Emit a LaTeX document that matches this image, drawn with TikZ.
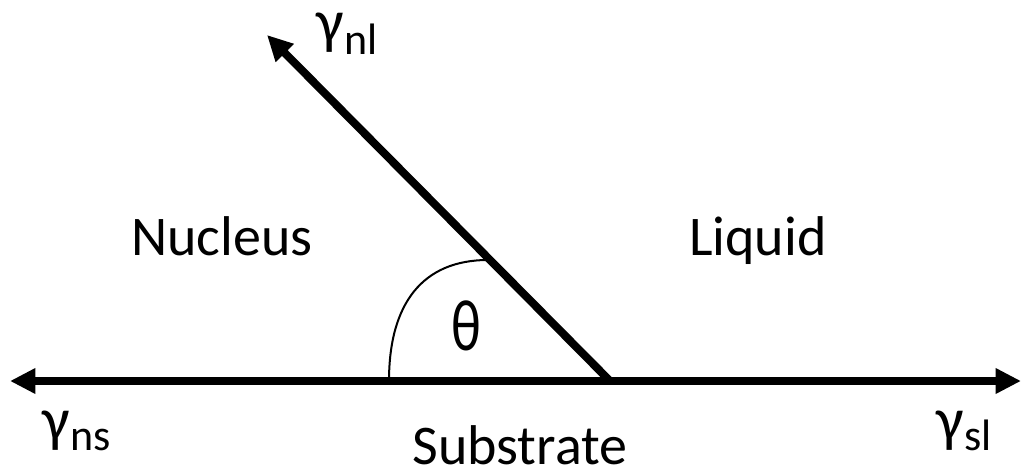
\documentclass[tikz,border=0pt]{standalone}
\usepackage{fontspec}
\setmainfont{Carlito}
\usetikzlibrary{arrows.meta}
\tikzset{
  tip/.tip={Triangle[length=19pt,width=18pt]},
  force/.style={line width=6pt, -tip},
  lbl/.style={anchor=base, inner sep=0pt, font=\fontsize{42}{50}\selectfont},
  gam/.style={anchor=south west, inner sep=0pt, font=\fontsize{46}{54}\selectfont},
  gsub/.style={anchor=base west, inner sep=0pt, font=\fontsize{33}{39}\selectfont}
}
\begin{document}
\begin{tikzpicture}[x=0.75pt,y=-0.75pt]
\useasboundingbox (0,0) rectangle (1023,467);
\coordinate (L) at (10,381);
\coordinate (R) at (1021,381);
\coordinate (O) at (610,381);
\coordinate (T) at (267,35);
\coordinate (A) at (389,381);
\coordinate (B) at (488,260);
\draw[line width=6pt, tip-tip] (L) -- (R);
\draw[force] (O) -- (T);
\draw[line width=1.5pt] (A) .. controls (389,303) and (423,260) .. (B);
\node[lbl] (theta) at (466,350) {\scalebox{1}[1.3]{θ}};
\node[lbl] (nuc) at (222,255) {Nucleus};
\node[lbl] (liq) at (758,255) {Liquid};
\node[lbl] (sub) at (520,464) {Substrate};
\node[gam] (gnl) at (316,53) {γ};
\node[gsub] (gnls) at (gnl.south east |- 0,55) {nl};
\node[gam] (gns) at (42,451) {γ};
\node[gsub] (gnss) at (gns.south east |- 0,450) {ns};
\node[gam] (gsl) at (936,451) {γ};
\node[gsub] (gsls) at (gsl.south east |- 0,450) {sl};
\end{tikzpicture}
\end{document}
